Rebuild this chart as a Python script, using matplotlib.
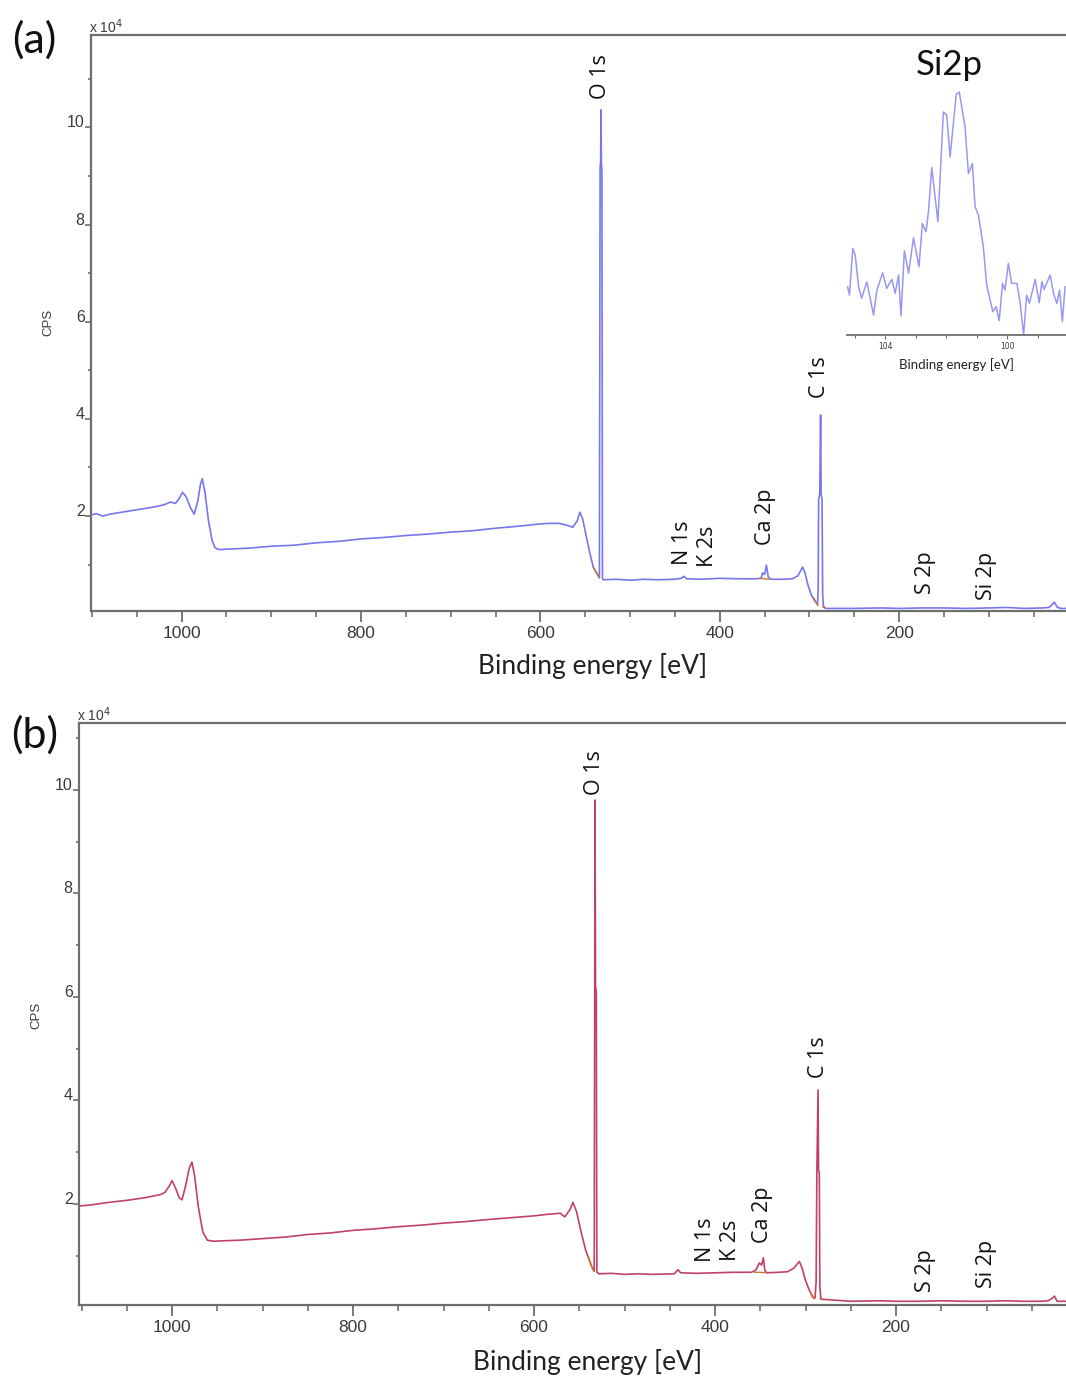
import matplotlib
matplotlib.use("Agg")
import matplotlib.pyplot as plt
from matplotlib.ticker import MultipleLocator

# ---------------- survey spectrum (a) : binding energy [eV], CPS [x1e4]
be_a = [1101, 1095, 1088, 1080, 1070, 1060, 1050, 1040, 1030, 1020, 1012, 1007,
        1003, 999, 995, 990, 986, 982, 979, 977, 974, 970, 966, 963, 960, 957,
        950, 925, 900, 875, 850, 825, 800, 775, 750, 725, 700, 675, 650, 620,
        600, 590, 579, 570, 564, 559, 556, 553, 549, 545, 541, 538, 536, 534.2,
        533.4, 532.8, 532.4, 532.0, 531.4, 530.8, 530, 515, 500, 485, 470, 450,
        443, 440, 437, 420, 400, 380, 360, 354, 352.3, 350, 348, 346, 343, 330,
        319, 313, 310, 307.7, 305, 302, 298, 294, 291, 290.3, 289.8, 288.5,
        287.6, 287.0, 286.0, 285.3, 284.5, 282, 250, 220, 200, 175, 150, 125,
        100, 80, 60, 40, 33, 30, 27, 24, 20, 13]
cps_a = [2.02, 2.05, 2.00, 2.04, 2.07, 2.10, 2.13, 2.16, 2.19, 2.23, 2.29, 2.26,
         2.35, 2.49, 2.40, 2.17, 2.04, 2.30, 2.65, 2.77, 2.50, 1.90, 1.50, 1.36,
         1.32, 1.31, 1.32, 1.34, 1.38, 1.40, 1.45, 1.48, 1.53, 1.56, 1.60, 1.63,
         1.67, 1.70, 1.75, 1.80, 1.84, 1.85, 1.85, 1.81, 1.77, 1.90, 2.08, 1.95,
         1.60, 1.25, 0.95, 0.85, 0.79, 0.73, 9.17, 9.30, 10.36, 9.30, 9.10, 0.72,
         0.69, 0.70, 0.68, 0.70, 0.69, 0.70, 0.72, 0.76, 0.71, 0.70, 0.72, 0.71,
         0.71, 0.72, 0.83, 0.80, 0.99, 0.75, 0.70, 0.70, 0.71, 0.77, 0.87, 0.95,
         0.83, 0.60, 0.38, 0.25, 0.19, 0.50, 2.35, 2.45, 4.08, 2.45, 2.35, 0.40,
         0.15, 0.10, 0.10, 0.11, 0.10, 0.11, 0.11, 0.10, 0.11, 0.12, 0.10, 0.11,
         0.12, 0.17, 0.23, 0.13, 0.10, 0.10]

# ---------------- survey spectrum (b)
be_b = [1103, 1090, 1070, 1050, 1030, 1013, 1008, 1003, 1000, 996, 992, 989,
        985, 981, 978, 975, 971, 966, 961, 955, 925, 900, 875, 850, 825, 800,
        775, 750, 725, 700, 675, 650, 600, 585, 571, 566, 560, 557, 553, 548,
        543, 538, 535, 533.5, 532.6, 532.0, 531.2, 530.6, 528, 515, 500, 485,
        470, 445, 441, 438, 420, 400, 380, 360, 355, 351, 348.5, 346.6, 345,
        343, 330, 320, 313, 306.8, 304, 300, 296, 291.4, 289.5, 288.3, 287.5,
        286.2, 285.6, 284.8, 284.2, 283, 250, 220, 200, 175, 150, 125, 100, 80,
        60, 40, 32, 28, 25, 22, 12]
cps_b = [1.96, 1.98, 2.03, 2.07, 2.12, 2.18, 2.22, 2.35, 2.45, 2.30, 2.12, 2.08,
         2.35, 2.69, 2.81, 2.54, 1.95, 1.46, 1.30, 1.28, 1.30, 1.33, 1.36, 1.41,
         1.44, 1.49, 1.52, 1.56, 1.59, 1.63, 1.66, 1.70, 1.77, 1.80, 1.82, 1.75,
         1.90, 2.03, 1.85, 1.46, 1.11, 0.87, 0.74, 0.70, 9.80, 6.20, 6.10, 0.68,
         0.65, 0.66, 0.64, 0.65, 0.64, 0.65, 0.73, 0.67, 0.66, 0.67, 0.68, 0.68,
         0.72, 0.86, 0.82, 0.96, 0.72, 0.67, 0.68, 0.69, 0.76, 0.89, 0.77, 0.52,
         0.34, 0.19, 0.19, 0.50, 2.60, 4.20, 2.65, 2.60, 0.40, 0.16, 0.12, 0.13,
         0.12, 0.12, 0.13, 0.12, 0.12, 0.13, 0.12, 0.12, 0.13, 0.17, 0.22, 0.12,
         0.12]

# ---------------- background segments under the fitted peaks
bg_a = [([541, 536, 534.2], [0.95, 0.79, 0.73]),
        ([355, 350, 345], [0.72, 0.71, 0.70]),
        ([295, 292, 290.5], [0.31, 0.20, 0.16]),
        ([285, 283], [0.13, 0.11])]
bg_b = [([540, 536, 533.6], [0.97, 0.78, 0.70]),
        ([356, 350, 345], [0.68, 0.68, 0.67]),
        ([295, 292, 290], [0.30, 0.19, 0.17]),
        ([284, 283], [0.17, 0.16])]

# ---------------- Si 2p high-resolution region (counts)
be_si = [105.23, 105.17, 105.06, 104.98, 104.87, 104.77, 104.60, 104.38, 104.27,
         104.08, 103.95, 103.78, 103.67, 103.56, 103.48, 103.37, 103.23, 103.07,
         102.89, 102.78, 102.66, 102.58, 102.47, 102.27, 102.09, 101.98, 101.87,
         101.67, 101.57, 101.38, 101.27, 101.14, 101.05, 100.94, 100.78, 100.67,
         100.47, 100.36, 100.26, 100.15, 100.07, 99.96, 99.85, 99.68, 99.57,
         99.46, 99.36, 99.27, 99.08, 98.95, 98.86, 98.79, 98.59, 98.48, 98.37,
         98.28, 98.19, 98.10]
cnt_si = [2290, 2240, 2520, 2480, 2290, 2220, 2320, 2120, 2270, 2374, 2280, 2334,
          2250, 2360, 2114, 2506, 2370, 2584, 2410, 2670, 2620, 2740, 3006, 2680,
          3340, 3320, 3070, 3446, 3460, 3250, 2970, 3030, 2770, 2720, 2530, 2300,
          2140, 2170, 2086, 2310, 2270, 2430, 2310, 2310, 2190, 2000, 2240, 2190,
          2334, 2194, 2320, 2274, 2360, 2250, 2190, 2270, 2080, 2290]

# ---------------- peak annotations: (text, BE, CPS at label foot)
labels_a = [("O 1s", 533, 10.58), ("C 1s", 289, 4.44), ("N 1s", 441, 0.99),
            ("K 2s", 414, 0.95), ("Ca 2p", 349, 1.40), ("S 2p", 171, 0.40),
            ("Si 2p", 103, 0.28)]
labels_b = [("O 1s", 533, 9.90), ("C 1s", 286, 4.43), ("N 1s", 410, 0.88),
            ("K 2s", 383, 0.90), ("Ca 2p", 348, 1.24), ("S 2p", 167, 0.30),
            ("Si 2p", 99.5, 0.37)]

x_major = [1000, 800, 600, 400, 200]
y_major = [2, 4, 6, 8, 10]

W, H = 1066, 1378
fig = plt.figure(figsize=(W / 100, H / 100), dpi=100)
fig.patch.set_facecolor("white")

SPINE = "#6e6e6e"
TICKTXT = "#3d3a36"
LABEL_FONT = ["Lato", "DejaVu Sans"]
PEAK_FONT = ["Open Sans", "DejaVu Sans"]
SANS = ["Liberation Sans", "DejaVu Sans"]


def px_axes(left, top, right, bottom):
    return fig.add_axes([left / W, 1 - bottom / H, (right - left) / W, (bottom - top) / H])


def survey(ax, be, cps, bg, labels, color, xlim, ylim):
    ax.plot(be, cps, color=color, lw=1.2, zorder=3)
    for xs, ys in bg:
        ax.plot(xs, ys, color="#c8782a", lw=1.0, zorder=4)
    ax.set_xlim(*xlim)
    ax.set_ylim(*ylim)
    ax.set_xticks(x_major)
    ax.xaxis.set_minor_locator(MultipleLocator(50))
    ax.set_yticks(y_major)
    ax.yaxis.set_minor_locator(MultipleLocator(1))
    for side in ("left", "bottom", "top"):
        ax.spines[side].set_color(SPINE)
        ax.spines[side].set_linewidth(1.6)
    ax.spines["right"].set_visible(False)
    ax.tick_params(axis="x", which="major", length=8, width=1.3, color=SPINE,
                   labelsize=12.5, labelcolor=TICKTXT, pad=3)
    ax.tick_params(axis="x", which="minor", length=4, width=1.2, color=SPINE)
    ax.tick_params(axis="y", which="major", length=4.5, width=1.2, color=SPINE,
                   labelsize=11.5, labelcolor=TICKTXT, pad=0)
    ax.tick_params(axis="y", which="minor", length=2.5, width=1.2, color=SPINE)
    for lab in ax.get_xticklabels() + ax.get_yticklabels():
        lab.set_fontfamily(SANS)
    for lab in ax.get_yticklabels():
        lab.set_va("baseline")
    for text, x, y in labels:
        ax.text(x, y, text, rotation=90, ha="center", va="bottom",
                fontsize=15.5, family=PEAK_FONT, color="#111111", zorder=5)


# ---- panel (a)
ax_a = px_axes(91, 35, 1066, 611)
survey(ax_a, be_a, cps_a, bg_a, labels_a, "#7676ee", (1101, 14), (0.047, 11.9))

# ---- panel (b)
ax_b = px_axes(79, 723, 1066, 1305)
survey(ax_b, be_b, cps_b, bg_b, labels_b, "#c0416a", (1102.8, 12.2), (0.048, 11.29))

# ---- Si 2p inset in (a)
ax_in = px_axes(847, 80, 1066, 335)
ax_in.set_facecolor("none")
ax_in.plot(be_si, cnt_si, color="#9898f4", lw=1.1)
ax_in.set_xlim(105.25, 98.07)
ax_in.set_ylim(2000, 3532)
ax_in.set_xticks([104, 100])
ax_in.xaxis.set_minor_locator(MultipleLocator(1))
ax_in.set_yticks([])
for side in ("left", "right", "top"):
    ax_in.spines[side].set_visible(False)
ax_in.spines["bottom"].set_color(SPINE)
ax_in.spines["bottom"].set_linewidth(1.3)
ax_in.tick_params(axis="x", which="major", length=3, width=0.8, color=SPINE,
                  labelsize=5.5, labelcolor=TICKTXT, pad=2)
ax_in.tick_params(axis="x", which="minor", length=2, width=0.8, color=SPINE)
ax_in.set_xlabel("Binding energy [eV]", fontsize=9.5, family=LABEL_FONT,
                 color="#222222", labelpad=5)
fig.text(949 / W, 1 - 65 / H, "Si2p", fontsize=25, family=LABEL_FONT,
         ha="center", va="center", color="#111111")

# ---- shared decorations
fig.text(593 / W, 1 - 666 / H, "Binding energy [eV]", fontsize=19,
         family=LABEL_FONT, ha="center", va="center", color="#222222")
fig.text(588 / W, 1 - 1362 / H, "Binding energy [eV]", fontsize=19,
         family=LABEL_FONT, ha="center", va="center", color="#222222")

fig.text(48 / W, 1 - 322 / H, "CPS", fontsize=9.5, rotation=90, family=SANS,
         ha="center", va="center", color=TICKTXT)
fig.text(36 / W, 1 - 1015 / H, "CPS", fontsize=9.5, rotation=90, family=SANS,
         ha="center", va="center", color=TICKTXT)

fig.text(89 / W, 1 - 33 / H, r"x 10$^4$", fontsize=10, family=SANS,
         ha="left", va="baseline", color=TICKTXT)
fig.text(77 / W, 1 - 721 / H, r"x 10$^4$", fontsize=10, family=SANS,
         ha="left", va="baseline", color=TICKTXT)

fig.text(34 / W, 1 - 40 / H, "(a)", fontsize=31, family=LABEL_FONT,
         ha="center", va="center", color="#111111")
fig.text(35 / W, 1 - 735 / H, "(b)", fontsize=31, family=LABEL_FONT,
         ha="center", va="center", color="#111111")

fig.savefig("out.png", dpi=100, facecolor="white")
